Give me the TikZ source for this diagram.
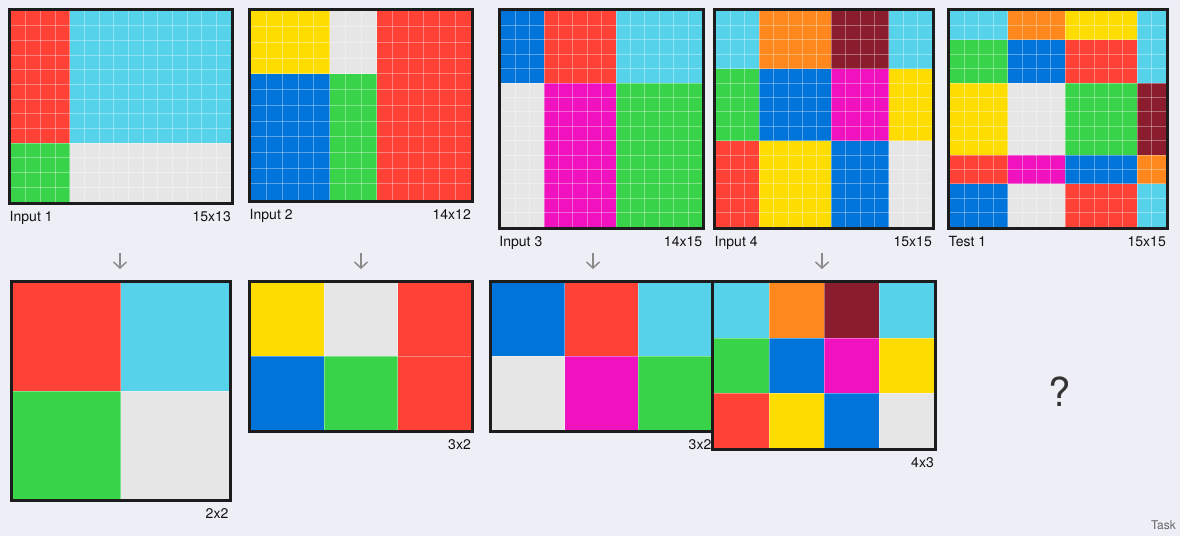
\documentclass[tikz,border=0pt]{standalone}
\usepackage{fontspec}
\setmainfont{TeX Gyre Heros}
\usetikzlibrary{arrows.meta}
\definecolor{bg}{HTML}{EEEFF6}
\definecolor{cR}{HTML}{FF4136}
\definecolor{cC}{HTML}{56D2EA}
\definecolor{cG}{HTML}{39D34A}
\definecolor{cW}{HTML}{E6E6E6}
\definecolor{cB}{HTML}{0074D9}
\definecolor{cY}{HTML}{FFDC00}
\definecolor{cM}{HTML}{F012BE}
\definecolor{cO}{HTML}{FF881E}
\definecolor{cK}{HTML}{8A1C2E}
\definecolor{frame}{HTML}{1C1C1C}
\definecolor{txt}{HTML}{111111}
\definecolor{arrowgray}{HTML}{8A8A8A}
\tikzset{
  gridline/.style={white, opacity=0.35, line width=0.8pt},
  gridframe/.style={draw=frame, line width=3pt},
  lbl/.style={inner sep=0pt, font=\fontsize{14}{16}\selectfont, text=txt},
  flowarrow/.style={draw=arrowgray, line width=1.5pt, -{Straight Barb[length=6pt,width=13pt]}},
}
\newcommand\drawgrid[8]{%
  \begin{scope}[shift={(#1,#2)}]
    \pgfmathsetmacro\gw{#3*#4}
    \pgfmathsetmacro\gh{#3*#5}
    \pgfmathtruncatemacro\gnc{#4-1}
    \pgfmathtruncatemacro\gnr{#5-1}
    \foreach \ca/\ra/\cb/\rb/\cc in {#6} {\fill[\cc] (\ca*#3,\ra*#3) rectangle (\cb*#3,\rb*#3);}
    \foreach \i in {1,...,\gnc} {\draw[gridline] (\i*#3,0) -- (\i*#3,\gh);}
    \foreach \j in {1,...,\gnr} {\draw[gridline] (0,\j*#3) -- (\gw,\j*#3);}
    \draw[gridframe] (-1.5,-1.5) rectangle (\gw+1.5,\gh+1.5);
    \if\relax\detokenize{#7}\relax\else
      \node[lbl,anchor=base west] at (-1.5,\gh+19.5) {#7};
    \fi
    \node[lbl,anchor=base east] at (\gw,\gh+19.5) {#8};
  \end{scope}}
\begin{document}
\begin{tikzpicture}[x=1pt,y=-1pt]
\useasboundingbox[fill=bg] (0,0) rectangle (1180,536);
% inputs
\drawgrid{11}{11}{14.6667}{15}{13}{0/0/4/9/cR, 4/0/15/9/cC, 0/9/4/13/cG, 4/9/15/13/cW}{Input 1}{15x13}
\drawgrid{251}{11}{15.7143}{14}{12}{0/0/5/4/cY, 5/0/8/4/cW, 8/0/14/12/cR, 0/4/5/12/cB, 5/4/8/12/cG}{Input 2}{14x12}
\drawgrid{500.7}{11}{14.4}{14}{15}{0/0/3/5/cB, 3/0/8/5/cR, 8/0/14/5/cC, 0/5/3/15/cW, 3/5/8/15/cM, 8/5/14/15/cG}{Input 3}{14x15}
\drawgrid{716}{11}{14.4}{15}{15}{0/0/3/4/cC, 3/0/8/4/cO, 8/0/12/4/cK, 12/0/15/4/cC,
  0/4/3/9/cG, 3/4/8/9/cB, 8/4/12/9/cM, 12/4/15/9/cY,
  0/9/3/15/cR, 3/9/8/15/cY, 8/9/12/15/cB, 12/9/15/15/cW}{Input 4}{15x15}
\drawgrid{950}{11}{14.4}{15}{15}{0/0/4/2/cC, 4/0/8/2/cO, 8/0/13/2/cY,
  0/2/4/5/cG, 4/2/8/5/cB, 8/2/13/5/cR,
  0/5/4/10/cY, 4/5/8/10/cW, 8/5/13/10/cG,
  0/10/4/12/cR, 4/10/8/12/cM, 8/10/13/12/cB,
  0/12/4/15/cB, 4/12/8/15/cW, 8/12/13/15/cR,
  13/0/15/5/cC, 13/5/15/10/cK, 13/10/15/12/cO, 13/12/15/15/cC}{Test 1}{15x15}
% arrows
\coordinate (a1s) at (120,253); \coordinate (a1e) at (120,269);
\coordinate (a2s) at (361,253); \coordinate (a2e) at (361,269);
\coordinate (a3s) at (593,253); \coordinate (a3e) at (593,269);
\coordinate (a4s) at (822,253); \coordinate (a4e) at (822,269);
\draw[flowarrow] (a1s) -- (a1e);
\draw[flowarrow] (a2s) -- (a2e);
\draw[flowarrow] (a3s) -- (a3e);
\draw[flowarrow] (a4s) -- (a4e);
% outputs
\drawgrid{12.5}{283}{108}{2}{2}{0/0/1/1/cR, 1/0/2/1/cC, 0/1/1/2/cG, 1/1/2/2/cW}{}{2x2}
\drawgrid{251}{283}{73.3333}{3}{2}{0/0/1/1/cY, 1/0/2/1/cW, 2/0/3/1/cR, 0/1/1/2/cB, 1/1/2/2/cG, 2/1/3/2/cR}{}{3x2}
\drawgrid{491.5}{283}{73.3333}{3}{2}{0/0/1/1/cB, 1/0/2/1/cR, 2/0/3/1/cC, 0/1/1/2/cW, 1/1/2/2/cM, 2/1/3/2/cG}{}{3x2}
\drawgrid{714}{283}{55}{4}{3}{0/0/1/1/cC, 1/0/2/1/cO, 2/0/3/1/cK, 3/0/4/1/cC,
  0/1/1/2/cG, 1/1/2/2/cB, 2/1/3/2/cM, 3/1/4/2/cY,
  0/2/1/3/cR, 1/2/2/3/cY, 2/2/3/3/cB, 3/2/4/3/cW}{}{4x3}
% test output placeholder
\node[inner sep=0pt, font=\fontsize{40}{44}\selectfont, text=black!80] (q) at (1060,392) {?};
\node[inner sep=0pt, anchor=base east, font=\fontsize{12}{14}\selectfont, text=black!60] (task) at (1176,529) {Task};
\end{tikzpicture}
\end{document}
